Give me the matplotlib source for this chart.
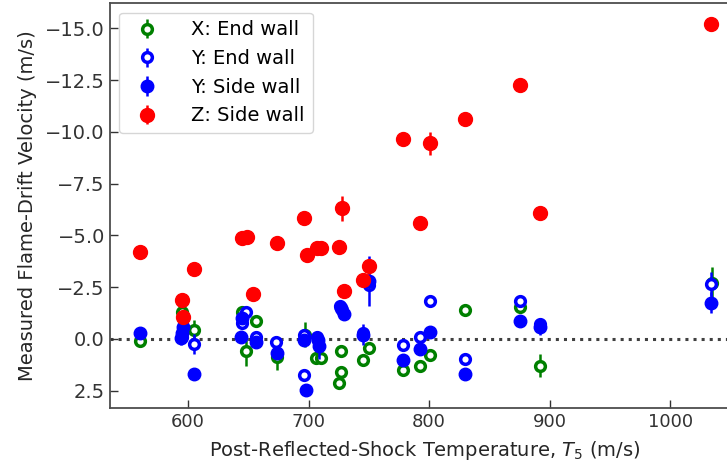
import numpy as np
import matplotlib
matplotlib.use("Agg")
import matplotlib.pyplot as plt

# X: End wall (green, open)
x_end_T = [560, 595, 605, 645, 656, 648, 674, 697, 706, 710, 727, 727, 725, 750, 745, 778, 792, 801, 830, 875, 892, 1035]
x_end_v = [0.1, -1.3, -0.45, -1.3, -0.85, 0.6, 0.85, -0.2, 0.93, 0.93, 0.6, 1.6, 2.15, 0.45, 1.0, 1.5, 1.3, 0.77, -1.4, -1.55, 1.3, -2.7]
x_end_e = [0.2, 0.2, 0.45, 0.2, 0.2, 0.7, 0.65, 0.6, 0.2, 0.2, 0.2, 0.2, 0.2, 0.2, 0.2, 0.2, 0.2, 0.2, 0.2, 0.2, 0.55, 0.75]

# Y: End wall (blue, open)
y_end_T = [595, 605, 648, 645, 656, 673, 696, 696, 707, 726, 728, 745, 750, 778, 792, 801, 830, 875, 892, 1034]
y_end_v = [-0.1, 0.25, -1.3, -0.75, -0.1, 0.15, -0.2, 1.75, -0.1, -1.6, -1.4, -0.3, -2.6, 0.3, -0.1, -1.85, 0.95, -1.85, -0.7, -2.65]
y_end_e = [0.2, 0.5, 0.2, 0.2, 0.2, 0.2, 0.2, 0.2, 0.2, 0.2, 0.2, 0.2, 0.3, 0.2, 0.2, 0.2, 0.2, 0.2, 0.2, 0.6]

# Y: Side wall (blue, filled)
y_side_T = [560, 594, 595, 596, 605, 645, 644, 656, 674, 698, 696, 708, 709, 727, 729, 745, 750, 778, 792, 801, 830, 875, 892, 1034]
y_side_v = [-0.3, -0.05, -0.3, -0.6, 1.7, -1.0, -0.1, 0.13, 0.7, 2.45, 0.05, 0.05, 0.35, -1.5, -1.2, -0.2, -2.8, 1.0, 0.5, -0.35, 1.7, -0.85, -0.6, -1.75]
y_side_e = [0.2, 0.35, 0.2, 0.2, 0.3, 0.2, 0.2, 0.2, 0.2, 0.2, 0.2, 0.2, 0.6, 0.2, 0.2, 0.5, 1.2, 0.2, 0.2, 0.2, 0.2, 0.2, 0.4, 0.5]

# Z: Side wall (red, filled)
z_side_T = [560, 595, 596, 605, 645, 649, 654, 674, 696, 699, 707, 710, 725, 728, 729, 745, 750, 778, 792, 801, 830, 875, 892, 1034]
z_side_v = [-4.2, -1.9, -1.05, -3.4, -4.85, -4.9, -2.15, -4.65, -5.85, -4.05, -4.4, -4.4, -4.45, -6.3, -2.3, -2.85, -3.5, -9.65, -5.6, -9.45, -10.6, -12.25, -6.1, -15.2]
z_side_e = [0.2, 0.2, 0.2, 0.2, 0.2, 0.2, 0.2, 0.2, 0.2, 0.2, 0.2, 0.2, 0.2, 0.6, 0.2, 0.2, 0.35, 0.2, 0.2, 0.55, 0.2, 0.2, 0.2, 0.2]

plt.rcParams["font.size"] = 14

fig = plt.figure(figsize=(7.27, 4.71), dpi=100)
ax = fig.add_axes([0.151, 0.134, 0.867, 0.86])

ax.axhline(0, color="0.25", ls=":", lw=2.2, zorder=1)

ax.errorbar(x_end_T, x_end_v, yerr=x_end_e, fmt="o", color="green",
            mfc="white", mec="green", ms=7, mew=2.5, elinewidth=1.8,
            label="X: End wall", zorder=2)
ax.errorbar(y_end_T, y_end_v, yerr=y_end_e, fmt="o", color="blue",
            mfc="white", mec="blue", ms=7, mew=2.5, elinewidth=1.8,
            label="Y: End wall", zorder=3)
ax.errorbar(y_side_T, y_side_v, yerr=y_side_e, fmt="o", color="blue",
            ms=9, elinewidth=1.8, label="Y: Side wall", zorder=4)
ax.errorbar(z_side_T, z_side_v, yerr=z_side_e, fmt="o", color="red",
            ms=10, elinewidth=1.8, label="Z: Side wall", zorder=5)

ax.set_xlim(535, 1058)
ax.set_ylim(3.33, -16.23)
ax.set_xticks([600, 700, 800, 900, 1000])
ax.set_yticks([-15, -12.5, -10, -7.5, -5, -2.5, 0, 2.5])
ax.tick_params(direction="in", length=6, width=1, labelsize=13, colors="0.2",
               labelcolor="0.2")
ax.tick_params(axis="y", labelsize=14)
for s in ax.spines.values():
    s.set_color("0.3")
    s.set_linewidth(1.3)

ax.set_xlabel("Post-Reflected-Shock Temperature, $T_5$ (m/s)", fontsize=14,
              color="0.15", labelpad=6)
ax.set_ylabel("Measured Flame-Drift Velocity (m/s)", fontsize=14,
              color="0.15", labelpad=6)
ax.legend(loc="upper left", fontsize=14, handletextpad=1.3)

fig.savefig("out.png", dpi=100)
